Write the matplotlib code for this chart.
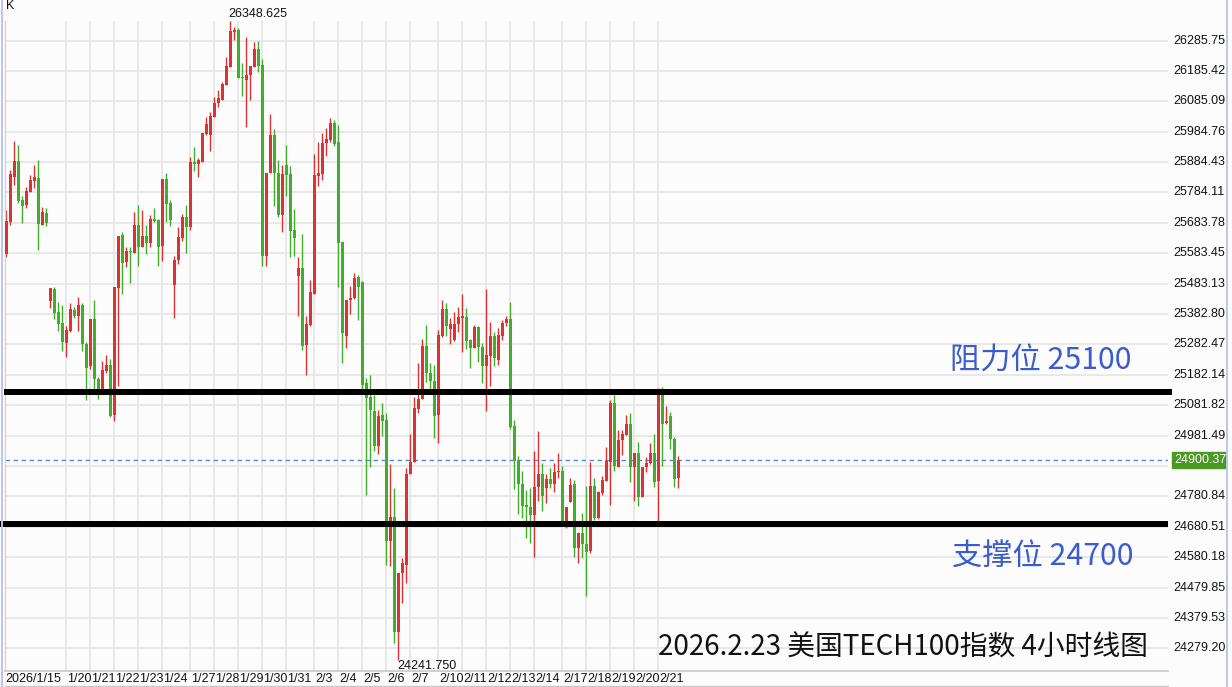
import matplotlib
matplotlib.use('Agg')
import matplotlib.pyplot as plt
from matplotlib.lines import Line2D
from matplotlib.patches import Rectangle
from matplotlib.transforms import Bbox, TransformedBbox, blended_transform_factory
import numpy as np

plt.rcParams['font.family'] = ['Liberation Sans', 'DejaVu Sans']
CJK = ['Noto Sans CJK SC', 'DejaVu Sans']

# 4-hour candles (red = up, green = down)
opens = [25581, 25687, 25836, 25888, 25759, 25743, 25786, 25822, 25832, 25678,
         25716, 25427, 25465, 25389, 25353, 25288, 25327, 25396, 25377, 25413,
         25284, 25212, 25366, 25169, 25135, 25196, 25215, 25050, 25470, 25644,
         25554, 25592, 25585, 25677, 25605, 25640, 25618, 25696, 25693, 25607,
         25828, 25749, 25480, 25562, 25634, 25703, 25671, 25884, 25878, 25885,
         25976, 25974, 26032, 26080, 26089, 26139, 26199, 26314, 26322, 26166,
         26155, 26172, 26199, 26257, 26205, 25574, 25849, 25974, 25847, 25710,
         25875, 25845, 25660, 25508, 25535, 25281, 25347, 25449, 25838, 25845,
         25948, 25957, 26013, 25950, 25619, 25311, 25429, 25435, 25506, 25489,
         25154, 25110, 25063, 24947, 25050, 25033, 24635, 24714, 24334, 24527,
         24555, 24855, 24893, 25069, 25102, 25277, 25189, 25162, 25050, 25310,
         25399, 25333, 25297, 25350, 25371, 25374, 25297, 25272, 25341, 25275,
         25212, 25244, 25310, 25231, 25310, 25353, 25366, 25013, 24901, 24822,
         24753, 24747, 24720, 24813, 24855, 24810, 24837, 24822, 24861, 24865,
         24695, 24763, 24822, 24610, 24659, 24624, 24602, 24815, 24709, 24793,
         24833, 24895, 25090, 24879, 24967, 24984, 25020, 24879, 24925, 24780,
         24877, 24890, 24925, 24833, 25119, 25024, 25047, 24970, 24843]
highs = [25726, 25858, 25954, 25941, 25772, 25803, 25842, 25875, 25891, 25736,
         25733, 25469, 25473, 25422, 25413, 25344, 25419, 25406, 25439, 25419,
         25290, 25366, 25429, 25176, 25228, 25248, 25234, 25472, 25640, 25653,
         25604, 25604, 25719, 25743, 25726, 25677, 25710, 25733, 25696, 25828,
         25849, 25759, 25574, 25670, 25713, 25743, 25901, 25934, 25898, 25980,
         26034, 26049, 26100, 26122, 26149, 26232, 26348.625, 26331, 26326, 26210,
         26298, 26202, 26281, 26284, 26224, 25850, 26043, 25994, 25891, 25875,
         25941, 25872, 25729, 25572, 25647, 25376, 25495, 25911, 25951, 25980,
         25996, 26030, 26025, 26007, 25619, 25429, 25475, 25517, 25512, 25493,
         25171, 25182, 25116, 25066, 25088, 25055, 24888, 24808, 24529, 24579,
         24874, 24986, 25110, 25220, 25299, 25347, 25220, 25215, 25330, 25429,
         25418, 25369, 25390, 25407, 25449, 25402, 25299, 25347, 25343, 25286,
         25464, 25356, 25324, 25337, 25363, 25376, 25423, 25033, 24914, 24865,
         24802, 24808, 24931, 24997, 24892, 24855, 24874, 24890, 24925, 24881,
         24745, 24841, 24835, 24664, 24725, 24815, 24895, 24841, 24800, 24848,
         24943, 25099, 25116, 25000, 25000, 25050, 25055, 24925, 24960, 24879,
         24912, 24958, 24987, 25139, 25143, 25079, 25059, 24976, 24914]
lows = [25571, 25677, 25809, 25750, 25684, 25734, 25786, 25800, 25594, 25677,
        25673, 25404, 25367, 25328, 25262, 25242, 25324, 25371, 25327, 25262,
        25100, 25202, 25129, 25103, 25122, 25188, 25044, 25031, 25146, 25449,
        25539, 25486, 25585, 25542, 25605, 25582, 25603, 25687, 25542, 25559,
        25687, 25673, 25371, 25549, 25624, 25584, 25660, 25855, 25835, 25885,
        25974, 25922, 26032, 26067, 26089, 26139, 26199, 26287, 26163, 26102,
        26001, 26091, 26199, 26182, 25541, 25541, 25849, 25739, 25704, 25654,
        25773, 25572, 25575, 25376, 25264, 25182, 25343, 25449, 25806, 25825,
        25904, 25950, 25938, 25473, 25222, 25272, 25382, 25431, 25363, 25119,
        24786, 24879, 24931, 24921, 24981, 24555, 24552, 24298, 24241.75, 24428,
        24494, 24855, 24893, 25055, 25102, 25159, 25134, 24973, 24958, 25306,
        25310, 25284, 25295, 25324, 25258, 25266, 25204, 25270, 25225, 25156,
        25064, 25145, 25211, 25215, 25297, 25343, 25003, 24805, 24723, 24710,
        24644, 24628, 24582, 24767, 24734, 24758, 24808, 24796, 24841, 24692,
        24676, 24763, 24580, 24562, 24577, 24453, 24595, 24703, 24706, 24786,
        24833, 24753, 24865, 24879, 24918, 24984, 24829, 24767, 24750, 24780,
        24862, 24888, 24813, 24697, 24881, 25020, 24937, 24813, 24810]
closes = [25690, 25845, 25888, 25756, 25740, 25789, 25825, 25835, 25680, 25719,
          25683, 25469, 25387, 25351, 25291, 25330, 25399, 25377, 25413, 25285,
          25206, 25366, 25169, 25136, 25198, 25215, 25047, 25472, 25640, 25552,
          25591, 25587, 25677, 25605, 25640, 25618, 25696, 25690, 25605, 25828,
          25747, 25694, 25561, 25637, 25703, 25671, 25884, 25878, 25891, 25980,
          26010, 26037, 26080, 26097, 26141, 26201, 26317, 26320, 26163, 26161,
          26172, 26202, 26257, 26202, 25574, 25850, 25974, 25847, 25710, 25845,
          25842, 25658, 25635, 25535, 25277, 25350, 25455, 25842, 25850, 25949,
          25960, 26013, 25944, 25618, 25319, 25429, 25435, 25503, 25473, 25149,
          25105, 25066, 24947, 25046, 25031, 24635, 24714, 24334, 24529, 24560,
          24855, 24893, 25074, 25102, 25277, 25189, 25162, 25047, 25314, 25399,
          25343, 25350, 25350, 25374, 25377, 25295, 25272, 25341, 25275, 25212,
          25248, 25310, 25238, 25314, 25354, 25366, 25009, 24899, 24822, 24749,
          24745, 24720, 24813, 24855, 24782, 24837, 24822, 24862, 24865, 24695,
          24745, 24819, 24610, 24659, 24623, 24598, 24815, 24709, 24796, 24835,
          24899, 25090, 24881, 24967, 24987, 25020, 24879, 24925, 24780, 24879,
          24892, 24925, 24829, 25119, 25020, 25031, 24970, 24838, 24900.37]

# first candle of each trading day and its date label
day_starts = [15, 21, 27, 33, 39, 46, 52, 58, 64, 70, 77, 83, 89, 95, 101,
              108, 114, 120, 126, 132, 139, 145, 151, 157, 163]
day_labels = ['1/20', '1/21', '1/22', '1/23', '1/24', '1/27', '1/28', '1/29',
              '1/30', '1/31', '2/3', '2/4', '2/5', '2/6', '2/7', '2/10', '2/11',
              '2/12', '2/13', '2/14', '2/17', '2/18', '2/19', '2/20', '2/21']
first_label = '2026/1/15'

price_ticks = [26285.75, 26185.42, 26085.09, 25984.76, 25884.43, 25784.11,
               25683.78, 25583.45, 25483.13, 25382.80, 25282.47, 25182.14,
               25081.82, 24981.49, 24881.16, 24780.84, 24680.51, 24580.18,
               24479.85, 24379.53, 24279.20]

last_price = 24900.37
resistance_line = 25126
support_line = 24688

RED = '#d93333'
GREEN = '#42ad2b'
GRID = '#e6e6e6'

W, H = 1232, 687
fig = plt.figure(figsize=(W / 100, H / 100), dpi=100, facecolor='#fcfcfc')
# plot area spans pixels x 5..1168, y 21..671
ax = fig.add_axes([5 / W, 16 / H, 1163 / W, 650 / H])
ax.set_facecolor('#fcfcfc')

o = np.array(opens, float)
h = np.array(highs, float)
l = np.array(lows, float)
c = np.array(closes, float)
x = np.arange(len(o))
up = c >= o
colors = np.where(up, RED, GREEN)

ymin, ymax = 24204.3, 26350.2
ax.set_xlim(-0.325, 290.425)
ax.set_ylim(ymin, ymax)

# grid
for d in day_starts:
    ax.axvline(d, color=GRID, lw=1.3, zorder=0)
for p in price_ticks:
    ax.axhline(p, color=GRID, lw=1.3, zorder=0)

# last price dashed line
ax.axhline(last_price, color='#4a80e8', lw=0.9, ls=(0, (3.6, 2.8)), zorder=1)

# candles
ax.vlines(x, l, h, colors=colors, lw=1.0, zorder=2)
body_bottom = np.minimum(o, c)
body_height = np.maximum(np.abs(c - o), 3.4)
ax.bar(x, body_height, bottom=body_bottom, width=0.7, color=colors,
       linewidth=0, zorder=3)

# support / resistance
ax.plot([-0.6, 291.4], [resistance_line] * 2, color='black', lw=4.3,
        solid_capstyle='butt', clip_on=False, zorder=5)
ax.plot([-1.6, 290.4], [support_line] * 2, color='black', lw=4.3,
        solid_capstyle='butt', clip_on=False, zorder=5)

# axes look
ax.set_xticks([])
ax.set_yticks([])
for s in ['top', 'right']:
    ax.spines[s].set_visible(False)
ax.spines['left'].set_color('#d4d4d4')
ax.spines['bottom'].set_color('#c8c8c8')
ax.spines['left'].set_linewidth(1.0)
ax.spines['bottom'].set_linewidth(1.2)

# price labels on the right, clipped by the frame and by the price tag
px = 3.3014  # price units per pixel
tag_bottom = last_price - 8 * px
tag_top = last_price + 8 * px
fig_y = blended_transform_factory(fig.transFigure, ax.transData)
clip = TransformedBbox(Bbox([[0, ymin - 50], [1225.5 / W, ymax + 50]]), fig_y)
clip_under_tag = TransformedBbox(Bbox([[0, ymin - 50], [1225.5 / W, tag_bottom]]),
                                 fig_y)
ytr = ax.get_yaxis_transform()
for p in price_ticks:
    t = ax.text(1 + 5 / 1163, p, f'{p:.2f}', transform=ytr, ha='left',
                va='center', fontsize=9, color='#111111', clip_on=True)
    if tag_bottom - 10 * px < p < tag_top:
        t.set_clip_box(clip_under_tag)
    else:
        t.set_clip_box(clip)

# last price tag
ax.add_patch(Rectangle((1 + 4 / 1163, tag_bottom), 54 / 1163, 16 * px,
                       transform=ytr, color='#4a9a22', clip_on=False, zorder=6))
t = ax.text(1 + 6 / 1163, last_price, f'{last_price:.2f}', transform=ytr,
            ha='left', va='center', fontsize=9, color='white', zorder=7,
            clip_on=True)
t.set_clip_box(clip)

# date labels
xtr = ax.get_xaxis_transform()
ax.text(-0.2, -0.003, first_label, transform=xtr, ha='left', va='top',
        fontsize=9, color='#111111')
for d, lab in zip(day_starts, day_labels):
    ax.text(d + 0.2, -0.003, lab, transform=xtr, ha='left', va='top',
            fontsize=9, color='#111111')

# high / low annotations
hi = int(np.argmax(h))
lo = int(np.argmin(l))
ax.text(hi - 0.6, h[hi] + 4, f'{h[hi]:.3f}', ha='left', va='bottom',
        fontsize=9, color='#111111', clip_on=False)
ax.text(lo - 0.2, l[lo] - 2, f'{l[lo]:.3f}', ha='left', va='top',
        fontsize=9, color='#111111')

# level captions and title
ax.text(0.8125, 0.477, '阻力位 25100', transform=ax.transAxes, family=CJK,
        fontsize=21.8, color='#3a5ccc', va='center', ha='left')
ax.text(0.8145, 0.175, '支撑位 24700', transform=ax.transAxes, family=CJK,
        fontsize=21.8, color='#3a5ccc', va='center', ha='left')
ax.text(0.5615, 0.0354, '2026.2.23 美国TECH100指数 4小时线图',
        transform=ax.transAxes, family=CJK, fontsize=20, color='#111111',
        va='center', ha='left')

fig.text(6 / W, 1 - 6 / H, 'K', fontsize=9, va='center', ha='left',
         color='#111111')

# outer frame
fig.add_artist(Line2D([2.5 / W] * 2, [0, 1], color='#b8c8ee', lw=1.4,
                      transform=fig.transFigure))
fig.add_artist(Line2D([1227 / W] * 2, [0, 1], color='#b8c8ee', lw=1.4,
                      transform=fig.transFigure))
fig.add_artist(Line2D([5 / W, 1168 / W], [1.2 / H] * 2, color='#c8c8c8',
                      lw=1.0, transform=fig.transFigure))

fig.savefig('out.png', dpi=100, facecolor=fig.get_facecolor())
